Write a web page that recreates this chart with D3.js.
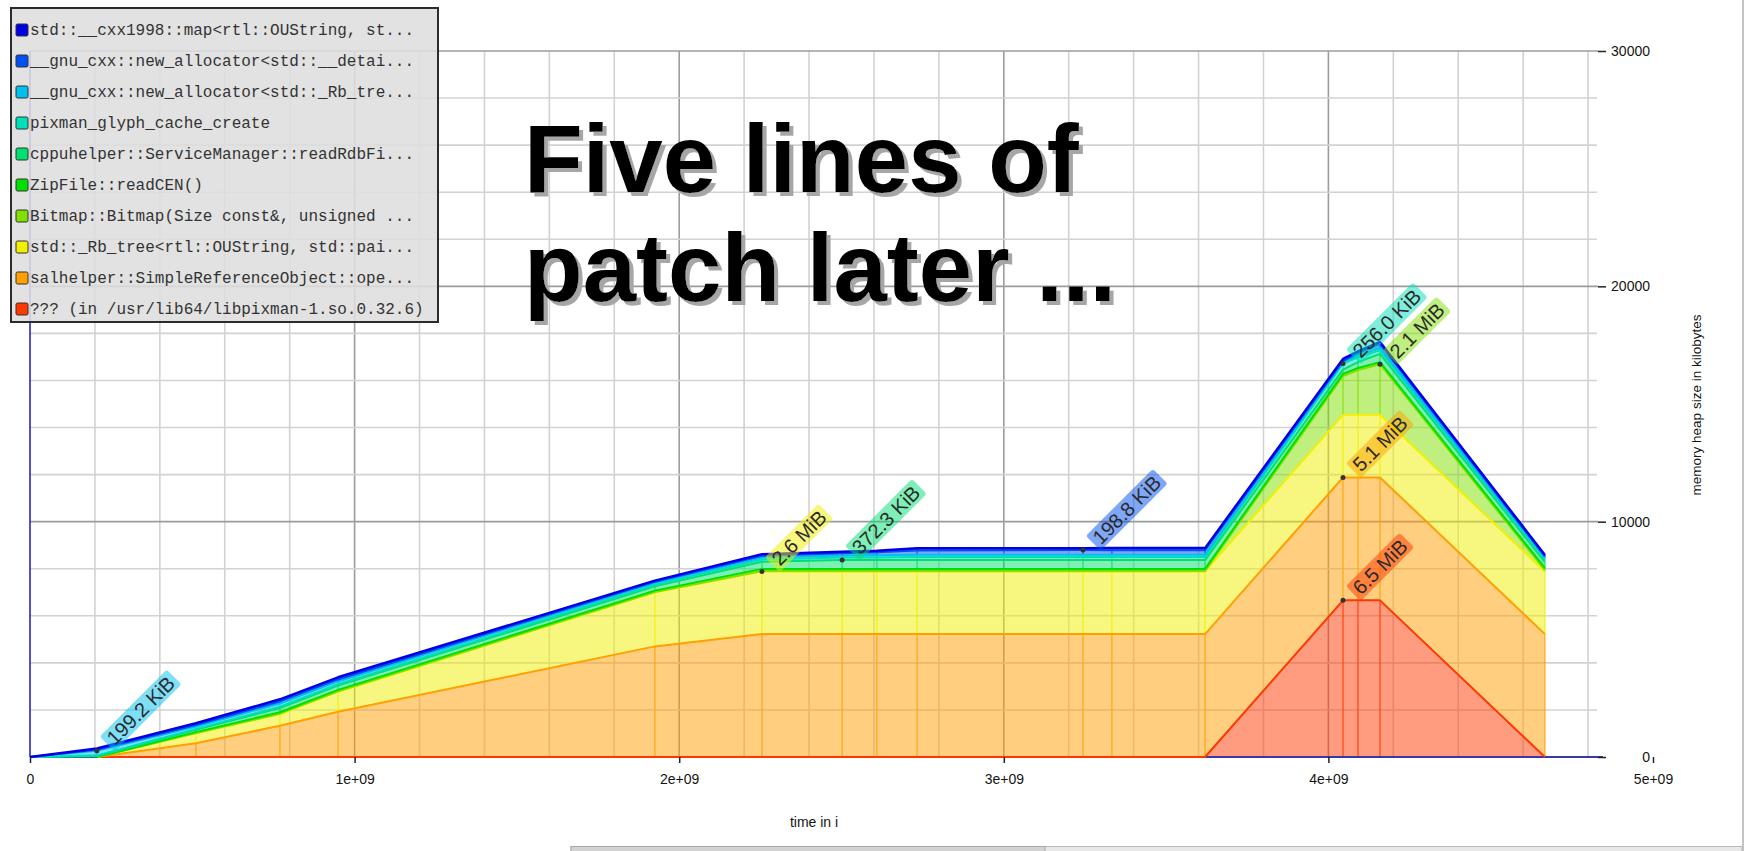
<!DOCTYPE html>
<html><head><meta charset="utf-8">
<script src="https://cdn.jsdelivr.net/npm/d3@7"></script>
<style>body{margin:0;background:#fff;overflow:hidden}svg{display:block}</style>
</head><body><svg id="c" width="1745" height="851"></svg>
<script>
// ---------- DATA ----------
const times = [0, 206e6, 511e6, 770e6, 949e6, 1925e6, 2255e6, 2502e6, 2609e6, 2733e6, 3244e6, 3333e6, 3620e6, 4045e6, 4091e6, 4159e6, 4667e6];

// heap per snapshot in KiB, one array per allocation site (null = not present yet)
const sMap         = [0, 50, 75, 90, 90, 50, 60, 69, 72, 90, 80, 90, 90, 90, 80, 80, 60];
const sAllocDetail = [0, 40, 60, 90, 85, 45, 80, 90, 120, 180, 199, 190, 190, 50, 100, 178, 60];
const sAllocRbTree = [0, 199, 100, 130, 120, 80, 80, 90, 95, 100, 100, 100, 100, 60, 80, 100, 80];
const sPixmanGlyph = [0, 40, 40, 60, 60, 70, 100, 110, 115, 130, 130, 130, 130, 256, 200, 150, 100];
const sCppu        = [0, 30, 100, 180, 180, 180, 300, 372, 372, 372, 372, 372, 372, 180, 250, 350, 250];
const sZip         = [null, 0, 40, 60, 60, 60, 90, 90, 90, 90, 90, 90, 90, 90, 90, 90, 90];
const sBitmap      = [null, 0, 10, 15, 15, 15, 20, 20, 20, 20, 20, 20, 20, 1650, 1900, 2150, 60];
const sRbTree      = [null, 0, 425, 496, 850, 2295, 2662, 2662, 2662, 2662, 2662, 2662, 2662, 2662, 2662, 2662, 2662];
const sSalhelper   = [null, 0, 581, 1331, 1926, 4700, 5222, 5222, 5222, 5222, 5222, 5222, 5222, 5222, 5222, 5222, 5222];
const sPixmanLib   = [null, 0, 0, 0, 0, 0, 0, 0, 0, 0, 0, 0, 0, 6656, 6656, 6656, 0];

// legend order (top of stack first)
const seriesKeys = ["map", "allocDetail", "allocRbTree", "pixmanGlyph", "cppu", "zip", "bitmap", "rbTree", "salhelper", "pixmanLib"];
const seriesNames = [
  "std::__cxx1998::map<rtl::OUString, st...",
  "__gnu_cxx::new_allocator<std::__detai...",
  "__gnu_cxx::new_allocator<std::_Rb_tre...",
  "pixman_glyph_cache_create",
  "cppuhelper::ServiceManager::readRdbFi...",
  "ZipFile::readCEN()",
  "Bitmap::Bitmap(Size const&, unsigned ...",
  "std::_Rb_tree<rtl::OUString, std::pai...",
  "salhelper::SimpleReferenceObject::ope...",
  "??? (in /usr/lib64/libpixman-1.so.0.32.6)"
];
const seriesColors = ["#0000e6", "#0050f0", "#00c0f0", "#00e0b8", "#00e070", "#00e000", "#80e000", "#f0f000", "#ffa000", "#ff3800"];
const seriesValues = [sMap, sAllocDetail, sAllocRbTree, sPixmanGlyph, sCppu, sZip, sBitmap, sRbTree, sSalhelper, sPixmanLib];

const labelTexts    = ["199.2 KiB", "2.6 MiB", "372.3 KiB", "198.8 KiB", "256.0 KiB", "2.1 MiB", "5.1 MiB", "6.5 MiB"];
const labelSeries   = ["allocRbTree", "rbTree", "cppu", "allocDetail", "pixmanGlyph", "bitmap", "salhelper", "pixmanLib"];
const labelSnapshot = [1, 6, 7, 10, 13, 15, 13, 13];

const xTickValues = [0, 1e9, 2e9, 3e9, 4e9, 5e9];
const xTickLabels = ["0", "1e+09", "2e+09", "3e+09", "4e+09", "5e+09"];
const yTickValues = [0, 10000, 20000, 30000];
const yTickLabels = ["0", "10000", "20000", "30000"];
const titleLines = ["Five lines of", "patch later ..."];
const xTitle = "time in i";
const yTitle = "memory heap size in kilobytes";

// ---------- LAYOUT ----------
const svg = d3.select("#c");
const defs = svg.append("defs");
const f = defs.append("filter").attr("id", "shadow").attr("x", "-5%").attr("y", "-10%").attr("width", "110%").attr("height", "130%");
f.append("feDropShadow").attr("dx", 4).attr("dy", 4).attr("stdDeviation", 0.6).attr("flood-color", "#a6a6a6").attr("flood-opacity", 1);

const x = d3.scaleLinear().domain([0, 5e9]).range([30, 1653]);
const y = d3.scaleLinear().domain([0, 30000]).range([757, 51]);
const plotRight = 1603;
const tMax = x.invert(plotRight);

// grid
const grid = svg.append("g");
d3.range(2e8, tMax, 2e8).forEach(t => {
  const major = Math.abs(t / 1e9 - Math.round(t / 1e9)) < 1e-6;
  grid.append("line").attr("x1", x(t)).attr("x2", x(t)).attr("y1", y(30000)).attr("y2", y(0))
    .attr("stroke", major ? "#9c9c9c" : "#d2d2d2").attr("stroke-width", 1.6);
});
d3.range(2000, 30001, 2000).forEach(v => {
  const major = v % 10000 === 0;
  grid.append("line").attr("x1", x(0)).attr("x2", major ? 1598 : 1597).attr("y1", y(v)).attr("y2", y(v))
    .attr("stroke", major ? "#9c9c9c" : "#d2d2d2").attr("stroke-width", 1.6);
});

// stack
const rows = times.map((t, i) => {
  const r = { t: t, i: i };
  seriesKeys.forEach((k, j) => { r[k] = seriesValues[j][i]; });
  return r;
});
const stackKeys = seriesKeys.slice().reverse();
const stack = d3.stack().keys(stackKeys).value((d, k) => d[k] == null ? 0 : d[k]);
const layers = stack(rows);
const colorOf = k => seriesColors[seriesKeys.indexOf(k)];

const area = d3.area().x(d => x(d.data.t)).y0(d => y(d[0])).y1(d => y(d[1]));
const gA = svg.append("g");
layers.forEach(L => {
  gA.append("path").datum(L).attr("d", area).attr("fill", colorOf(L.key)).attr("fill-opacity", 0.5);
});
// snapshot separators inside each band
const gV = svg.append("g");
layers.forEach(L => {
  L.forEach(d => {
    if (d.data[L.key] == null) return;
    if (y(d[0]) - y(d[1]) < 0.5) return;
    gV.append("line").attr("x1", x(d.data.t)).attr("x2", x(d.data.t))
      .attr("y1", y(d[0])).attr("y2", y(d[1]))
      .attr("stroke", colorOf(L.key)).attr("stroke-opacity", 0.7).attr("stroke-width", 1.5);
  });
});

// axis baseline + left edge
svg.append("line").attr("x1", x(0)).attr("x2", plotRight).attr("y1", y(0)).attr("y2", y(0))
  .attr("stroke", "#3838a8").attr("stroke-width", 2);
svg.append("line").attr("x1", x(0)).attr("x2", x(0)).attr("y1", y(30000)).attr("y2", y(0))
  .attr("stroke", "#1818c0").attr("stroke-width", 1.5);

// top lines
const gL = svg.append("g");
layers.forEach(L => {
  const line = d3.line().defined(d => d.data[L.key] != null).x(d => x(d.data.t)).y(d => y(d[1]));
  gL.append("path").datum(L).attr("d", line).attr("fill", "none")
    .attr("stroke", colorOf(L.key)).attr("stroke-width", L.key === "map" ? 2.5 : 2)
    .attr("stroke-linejoin", "round");
});

// axes
const xAxis = d3.axisBottom(x).tickValues(xTickValues).tickSize(6).tickPadding(11)
  .tickFormat((d, i) => xTickLabels[i]);
const gx = svg.append("g").attr("transform", `translate(0,${y(0)})`).call(xAxis);
gx.select(".domain").remove();
gx.selectAll("line").attr("stroke", "#222").attr("stroke-width", 1.5);
gx.selectAll("text").attr("font-family", "Liberation Sans, Arial, sans-serif").attr("font-size", 14).attr("fill", "#151515");

const yAxis = d3.axisRight(y).tickValues(yTickValues).tickSize(8).tickFormat((d, i) => yTickLabels[i]);
const gy = svg.append("g").attr("transform", "translate(1598,0)").call(yAxis);
gy.select(".domain").remove();
gy.selectAll("line").attr("stroke", "#222").attr("stroke-width", 1.5);
gy.selectAll("text").attr("text-anchor", "end").attr("x", 52)
  .attr("font-family", "Liberation Sans, Arial, sans-serif").attr("font-size", 14).attr("fill", "#151515");

svg.append("text").attr("x", 814).attr("y", 827).attr("text-anchor", "middle")
  .attr("font-family", "Liberation Sans, Arial, sans-serif").attr("font-size", 14).attr("fill", "#151515").text(xTitle);
svg.append("text").attr("transform", "translate(1701,405) rotate(-90)").attr("text-anchor", "middle")
  .attr("font-family", "Liberation Sans, Arial, sans-serif").attr("font-size", 13.5).attr("fill", "#151515").text(yTitle);

// peak labels
const gLab = svg.append("g");
labelTexts.forEach((txt, i) => {
  const L = layers.find(l => l.key === labelSeries[i]);
  const d = L[labelSnapshot[i]];
  const px = x(d.data.t), py = y(d[1]);
  const g = gLab.append("g").attr("transform", `translate(${px},${py}) rotate(-45)`);
  const rect = g.append("rect").attr("x", 12).attr("y", -8).attr("height", 21).attr("rx", 3)
    .attr("fill", colorOf(L.key)).attr("fill-opacity", 0.5);
  const t = g.append("text").attr("x", 16).attr("y", 9.5)
    .attr("font-family", "Liberation Sans, Arial, sans-serif").attr("font-size", 20).attr("fill", "#2a2a2a").text(txt);
  rect.attr("width", t.node().getComputedTextLength() + 8);
  gLab.append("circle").attr("cx", px).attr("cy", py).attr("r", 2.5).attr("fill", "#333");
});

// big title with shadow
const title = svg.append("text").attr("font-family", "Liberation Sans, Arial, sans-serif")
  .attr("font-weight", "bold").attr("font-size", 96).attr("fill", "#000").attr("filter", "url(#shadow)");
titleLines.forEach((s, i) => {
  title.append("tspan").attr("x", 524).attr("y", 192 + i * 108.6).text(s);
});

// legend
const lg = svg.append("g");
lg.append("rect").attr("x", 11).attr("y", 8).attr("width", 427).attr("height", 314)
  .attr("fill", "#dedede").attr("fill-opacity", 0.88).attr("stroke", "#2b2b2b").attr("stroke-width", 2);
seriesNames.forEach((n, i) => {
  const cy = 30 + i * 31;
  lg.append("rect").attr("x", 16).attr("y", cy - 6).attr("width", 12).attr("height", 12).attr("rx", 1.5)
    .attr("fill", seriesColors[i]).attr("stroke", "#333").attr("stroke-width", 1);
  lg.append("text").attr("x", 30).attr("y", cy + 5).attr("font-family", "Liberation Mono, monospace")
    .attr("font-size", 16).attr("fill", "#333").text(n);
});

// window chrome bits
svg.append("line").attr("x1", 1743).attr("x2", 1743).attr("y1", 0).attr("y2", 851).attr("stroke", "#c4c4c4").attr("stroke-width", 2);
svg.append("rect").attr("x", 571).attr("y", 846.5).attr("width", 1171).attr("height", 6).attr("fill", "#e8e8e8").attr("stroke", "#b8b8b8");
svg.append("rect").attr("x", 571).attr("y", 846.5).attr("width", 474).attr("height", 6).attr("fill", "#d2d2d2").attr("stroke", "#a8a8a8");
</script>
</body></html>
